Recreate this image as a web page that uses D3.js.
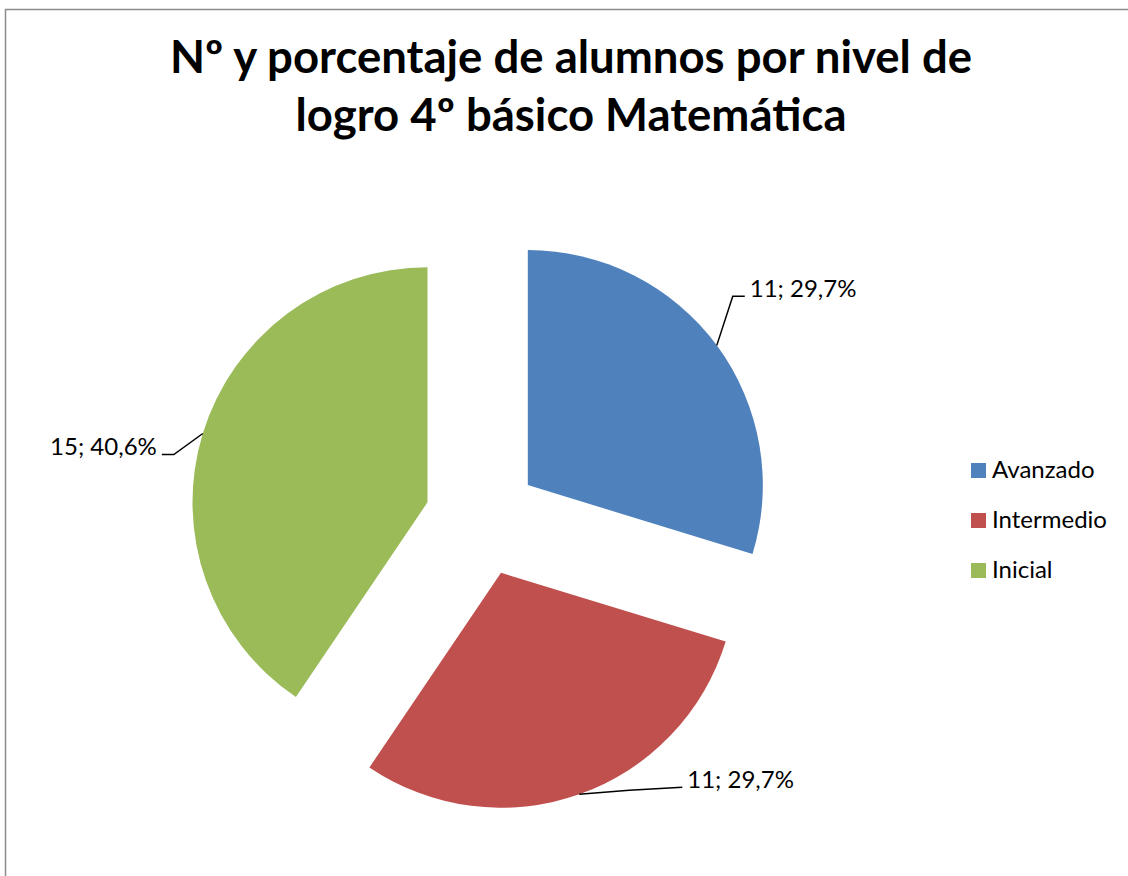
<!DOCTYPE html>
<html>
<head>
<meta charset="utf-8">
<script src="https://cdn.jsdelivr.net/npm/d3@7"></script>
<style>
  body { margin: 0; background: #fff; }
  text { font-family: Lato, "Liberation Sans", sans-serif; fill: #000; }
</style>
</head>
<body>
<div id="chart"></div>
<script>
// Chart data
const categories = ["Avanzado", "Intermedio", "Inicial"];
const counts = [11, 11, 15];
const percents = ["29,7%", "29,7%", "40,6%"];
const colors = ["#4f81bd", "#c0504d", "#9bbb59"];
const titleLines = ["Nº y porcentaje de alumnos por nivel de", "logro 4º básico Matemática"];

const width = 1128, height = 876;

const svg = d3.select("#chart")
              .append("svg")
              .attr("width", width)
              .attr("height", height);

// chart border (runs off the right and bottom edges)
svg.append("rect")
   .attr("x", 5.5)
   .attr("y", 9.5)
   .attr("width", 1200)
   .attr("height", 1000)
   .attr("fill", "none")
   .attr("stroke", "#8c8c8c")
   .attr("stroke-width", 1.5);

// Title
svg.append("text")
   .attr("x", 571)
   .attr("text-anchor", "middle")
   .style("font-weight", "bold")
   .style("font-size", "45.5px")
   .selectAll("tspan")
   .data(titleLines)
   .enter()
   .append("tspan")
   .attr("x", 571)
   .attr("y", (d, i) => 73 + i * 58)
   .text(d => d);

// Pie setup
const cx = 482, cy = 519, radius = 235, explode = 57;

const pie = d3.pie().sort(null).value(d => d.count);
const arc = d3.arc().innerRadius(0).outerRadius(radius);

const data = categories.map((c, i) => ({
    name: c, count: counts[i], pct: percents[i], color: colors[i]
}));
const arcs = pie(data);

const g = svg.append("g")
             .attr("transform", `translate(${cx},${cy})`);

const mid = d => (d.startAngle + d.endAngle) / 2;
const offset = (d, r) => [Math.sin(mid(d)) * r, -Math.cos(mid(d)) * r];

const slices = g.selectAll(".slice")
                .data(arcs)
                .enter()
                .append("g")
                .attr("class", "slice")
                .attr("transform", d => `translate(${offset(d, explode)})`);

slices.append("path")
      .attr("d", arc)
      .attr("fill", d => d.data.color);

// Leader lines and data labels; label placement per slice
const labelPlaces = [
    { elbow: [16, -49], end: [12, 0], anchor: "start", dx: 5 },
    { elbow: [50, -4], end: [53, -3], anchor: "start", dx: 5 },
    { elbow: [-29, 21], end: [-12, 0], anchor: "end", dx: -5 }
];

slices.each(function(d, i) {
    const s = offset(d, radius);
    const p = labelPlaces[i];
    const e = [s[0] + p.elbow[0], s[1] + p.elbow[1]];
    const t = [e[0] + p.end[0], e[1] + p.end[1]];
    const sel = d3.select(this);
    sel.append("polyline")
       .attr("points", [s, e, t].map(q => q.join(",")).join(" "))
       .attr("fill", "none")
       .attr("stroke", "#000")
       .attr("stroke-width", 1.5);
    sel.append("text")
       .attr("x", t[0] + p.dx)
       .attr("y", t[1] + 1)
       .attr("text-anchor", p.anchor)
       .style("font-size", "24px")
       .text(`${d.data.count}; ${d.data.pct}`);
});

// Legend
const legend = svg.append("g")
                  .attr("transform", "translate(971,463)");

const items = legend.selectAll(".item")
                    .data(data)
                    .enter()
                    .append("g")
                    .attr("class", "item")
                    .attr("transform", (d, i) => `translate(0,${i * 50})`);

items.append("rect")
     .attr("width", 15)
     .attr("height", 15)
     .attr("fill", d => d.color);

items.append("text")
     .attr("x", 21)
     .attr("y", 15)
     .style("font-size", "24px")
     .text(d => d.name);
</script>
</body>
</html>
